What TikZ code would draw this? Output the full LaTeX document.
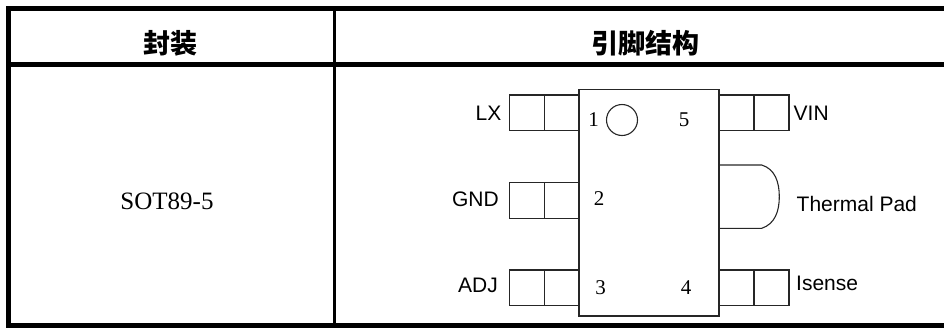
\documentclass[tikz,border=0pt]{standalone}
\usepackage{fontspec}
\setmainfont{Liberation Serif}
\newfontfamily\pinfont{Liberation Sans}
\newfontfamily\cjkfont{Noto Sans CJK SC}
\tikzset{
	rule/.style={line width=5pt, line cap=rect},
	pinline/.style={line width=1.1pt, black!85},
	lbl/.style={inner sep=0pt, font=\pinfont\fontsize{21}{24}\selectfont},
	num/.style={inner sep=0pt, font=\fontsize{21}{24}\selectfont},
	head/.style={inner sep=0pt, font=\cjkfont\bfseries\fontsize{27}{30}\selectfont}
}
\begin{document}
\begin{tikzpicture}[x=1pt, y=-1pt]
	\useasboundingbox (0,0) rectangle (944,327);
	% table
	\draw[rule] (8.5,327) -- (8.5,8.5) -- (944,8.5);
	\draw[rule] (8.5,64.5) -- (944,64.5);
	\draw[rule] (8.5,325) -- (944,325);
	\draw[line width=2.8pt] (334.5,8.5) -- (334.5,325);
	\node[head] (pkg) at (170,43) {封装};
	\node[head] (pinout) at (645,43) {引脚结构};
	\node[num, font=\fontsize{25}{28}\selectfont] (type) at (167,201.5) {SOT89-5};
	% pins
	\foreach \xa/\ya in {509.3/95, 509.3/182.7, 509.3/270, 719/95, 719/270} {
		\draw[pinline] (\xa,\ya) rectangle ++(70,35.5);
		\draw[pinline] (\xa+35,\ya) -- ++(0,35.5);
	}
	% thermal pad
	\draw[pinline] (719,165) -- (761.7,165) .. controls (775,169) and (779.3,182) .. (779.3,196.7)
		.. controls (779.3,211) and (775,224) .. (761.7,228.3) -- (719,228.3);
	% body
	\draw[pinline, fill=white] (579,89.3) rectangle (719,316);
	\draw[pinline] (622,120) circle [radius=15.5];
	\node[num] (n1) at (593.5,120) {1};
	\node[num] (n5) at (684,120) {5};
	\node[num] (n2) at (599,199) {2};
	\node[num] (n3) at (600.5,288) {3};
	\node[num] (n4) at (686,288) {4};
	% labels
	\node[lbl, anchor=east] (lx) at (501.5,113) {LX};
	\node[lbl, anchor=east] (gnd) at (499,199) {GND};
	\node[lbl, anchor=east] (adj) at (498,285.5) {ADJ};
	\node[lbl, anchor=west] (vin) at (793.5,113) {VIN};
	\node[lbl, anchor=west] (pad) at (796.5,203.5) {Thermal Pad};
	\node[lbl, anchor=west] (isense) at (796,283.5) {Isense};
\end{tikzpicture}
\end{document}
